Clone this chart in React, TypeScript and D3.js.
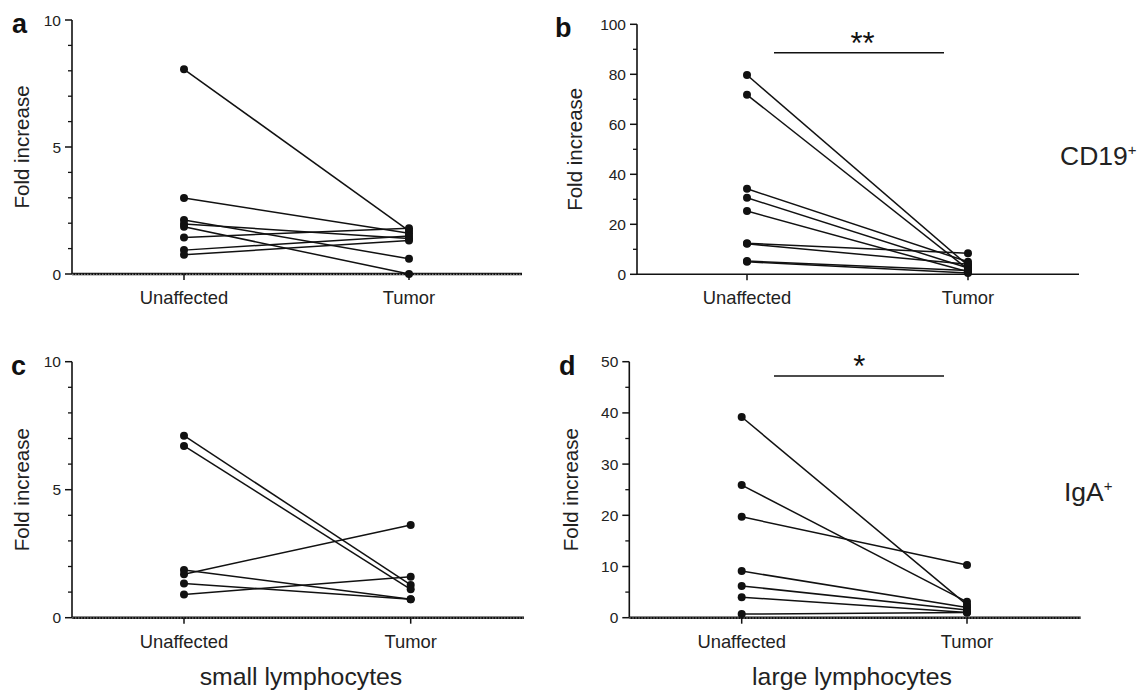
import React from "react";
import * as d3 from "d3";

const categories = ["Unaffected", "Tumor"];

// Panel a: small lymphocytes, CD19+
const aUnaffected = [8.06, 2.99, 2.13, 1.97, 1.86, 1.44, 0.94, 0.76];
const aTumor = [1.7, 1.6, 0.6, 1.4, 0.0, 1.8, 1.5, 1.32];
// Panel b: large lymphocytes, CD19+
const bUnaffected = [79.7, 71.8, 34.2, 30.6, 25.3, 12.4, 12.2, 5.0, 5.3];
const bTumor = [3.5, 2.0, 5.0, 2.5, 1.0, 8.4, 4.0, 0.5, 1.5];
// Panel c: small lymphocytes, IgA+
const cUnaffected = [7.11, 6.71, 1.86, 1.7, 1.34, 0.91];
const cTumor = [1.28, 1.11, 0.72, 3.62, 0.72, 1.6];
// Panel d: large lymphocytes, IgA+
const dUnaffected = [39.2, 25.9, 19.7, 9.1, 6.2, 4.0, 0.7];
const dTumor = [2.5, 3.1, 10.3, 2.0, 1.5, 1.0, 1.0];

const aTicks = [0, 5, 10];
const bTicks = [0, 20, 40, 60, 80, 100];
const cTicks = [0, 5, 10];
const dTicks = [0, 10, 20, 30, 40, 50];

const FONT = "'Liberation Sans', Arial, Helvetica, sans-serif";

type PanelProps = {
  letter: string;
  unaffected: number[];
  tumor: number[];
  ticks: number[];
  minorStep: number;
  axisX: number;
  yTop: number;
  yBottom: number;
  xU: number;
  xT: number;
  xEnd: number;
  dottedZero: boolean;
  letterX: number;
  titleX: number;
  sig?: string;
  sigBarY?: number;
};

function Panel(p: PanelProps) {
  const max = p.ticks[p.ticks.length - 1];
  const y = d3.scaleLinear().domain([0, max]).range([p.yBottom, p.yTop]);
  const x = d3.scalePoint<string>().domain(categories).range([p.xU, p.xT]);
  const minor = d3.range(0, max + 0.0001, p.minorStep).filter((v) => !p.ticks.includes(v));
  const line = d3.line<[number, number]>().x((d) => d[0]).y((d) => d[1]);
  const y0 = y(0);
  const xu = x("Unaffected")!;
  const xt = x("Tumor")!;
  const cx = (xu + xt) / 2;
  return (
    <g>
      <text x={p.letterX} y={p.yTop + 13} fontFamily={FONT} fontWeight="bold" fontSize={27} fill="#111">
        {p.letter}
      </text>
      <text
        transform={`translate(${p.titleX + 7},${(p.yTop + p.yBottom) / 2}) rotate(-90)`}
        textAnchor="middle"
        fontFamily={FONT}
        fontSize={20.5}
        fill="#222"
      >
        Fold increase
      </text>
      {/* y axis */}
      <line x1={p.axisX} x2={p.axisX} y1={p.yTop} y2={y0} stroke="#111" strokeWidth={1.6} />
      {p.ticks.map((t) => (
        <g key={"t" + t}>
          <line x1={p.axisX - 7} x2={p.axisX} y1={y(t)} y2={y(t)} stroke="#111" strokeWidth={1.5} />
          <text x={p.axisX - 11} y={y(t) + 5.5} textAnchor="end" fontFamily={FONT} fontSize={15.5} fill="#222">
            {t}
          </text>
        </g>
      ))}
      {minor.map((t) => (
        <line key={"m" + t} x1={p.axisX - 4} x2={p.axisX} y1={y(t)} y2={y(t)} stroke="#111" strokeWidth={1.3} />
      ))}
      {/* x axis */}
      <line x1={p.axisX} x2={p.xEnd} y1={y0} y2={y0} stroke="#111" strokeWidth={p.dottedZero ? 2.4 : 1.6} />
      {p.dottedZero && (
        <line x1={p.axisX} x2={p.xEnd} y1={y0 + 0.3} y2={y0 + 0.3} stroke="#bbb" strokeWidth={0.8} strokeDasharray="1.5,1.5" />
      )}
      {categories.map((c) => (
        <g key={c}>
          <line x1={x(c)!} x2={x(c)!} y1={y0} y2={y0 + 6} stroke="#111" strokeWidth={1.5} />
          <text x={x(c)!} y={y0 + 30} textAnchor="middle" fontFamily={FONT} fontSize={18.4} fill="#222">
            {c}
          </text>
        </g>
      ))}
      {/* paired lines */}
      {p.unaffected.map((u, i) => (
        <path
          key={"l" + i}
          d={line([
            [xu, y(u)],
            [xt, y(p.tumor[i])],
          ])!}
          stroke="#111"
          strokeWidth={1.5}
          fill="none"
        />
      ))}
      {p.unaffected.map((u, i) => (
        <circle key={"u" + i} cx={xu} cy={y(u)} r={4} fill="#111" />
      ))}
      {p.tumor.map((t, i) => (
        <circle key={"v" + i} cx={xt} cy={y(t)} r={4} fill="#111" />
      ))}
      {p.sig && p.sigBarY !== undefined && (
        <g>
          <line x1={774} x2={944} y1={p.sigBarY} y2={p.sigBarY} stroke="#111" strokeWidth={1.6} />
          <text x={cx + 5} y={p.sigBarY + 1} textAnchor="middle" fontFamily={FONT} fontSize={31} fill="#111">
            {p.sig}
          </text>
        </g>
      )}
    </g>
  );
}

export default function App() {
  return (
    <svg
      width={1146}
      height={691}
      style={{ position: "absolute", left: 0, top: 0, background: "#fff" }}
    >
      <rect width={1146} height={691} fill="#fff" />
      <Panel
        letter="a"
        unaffected={aUnaffected}
        tumor={aTumor}
        ticks={aTicks}
        minorStep={1}
        axisX={72}
        yTop={20}
        yBottom={274}
        xU={184}
        xT={409}
        xEnd={522}
        dottedZero={true}
        letterX={12}
        titleX={22}
      />
      <Panel
        letter="b"
        unaffected={bUnaffected}
        tumor={bTumor}
        ticks={bTicks}
        minorStep={10}
        axisX={637}
        yTop={24.3}
        yBottom={274.3}
        xU={747}
        xT={968}
        xEnd={1079}
        dottedZero={false}
        letterX={555}
        titleX={575}
        sig="**"
        sigBarY={52.7}
      />
      <Panel
        letter="c"
        unaffected={cUnaffected}
        tumor={cTumor}
        ticks={cTicks}
        minorStep={1}
        axisX={72}
        yTop={361.7}
        yBottom={617.7}
        xU={184}
        xT={410.7}
        xEnd={524}
        dottedZero={true}
        letterX={11}
        titleX={22}
      />
      <Panel
        letter="d"
        unaffected={dUnaffected}
        tumor={dTumor}
        ticks={dTicks}
        minorStep={5}
        axisX={629.3}
        yTop={361.7}
        yBottom={617.7}
        xU={741.7}
        xT={967}
        xEnd={1080.7}
        dottedZero={true}
        letterX={559}
        titleX={571}
        sig="*"
        sigBarY={376}
      />
      <text x={1060} y={165} fontFamily={FONT} fontSize={26.5} fill="#222">
        CD19<tspan fontSize={15} dy={-10}>+</tspan>
      </text>
      <text x={1064} y={501} fontFamily={FONT} fontSize={26.5} fill="#222">
        IgA<tspan fontSize={15} dy={-10}>+</tspan>
      </text>
      <text x={301} y={685} textAnchor="middle" fontFamily={FONT} fontSize={24.8} fill="#222">
        small lymphocytes
      </text>
      <text x={852} y={685} textAnchor="middle" fontFamily={FONT} fontSize={24.8} fill="#222">
        large lymphocytes
      </text>
    </svg>
  );
}
